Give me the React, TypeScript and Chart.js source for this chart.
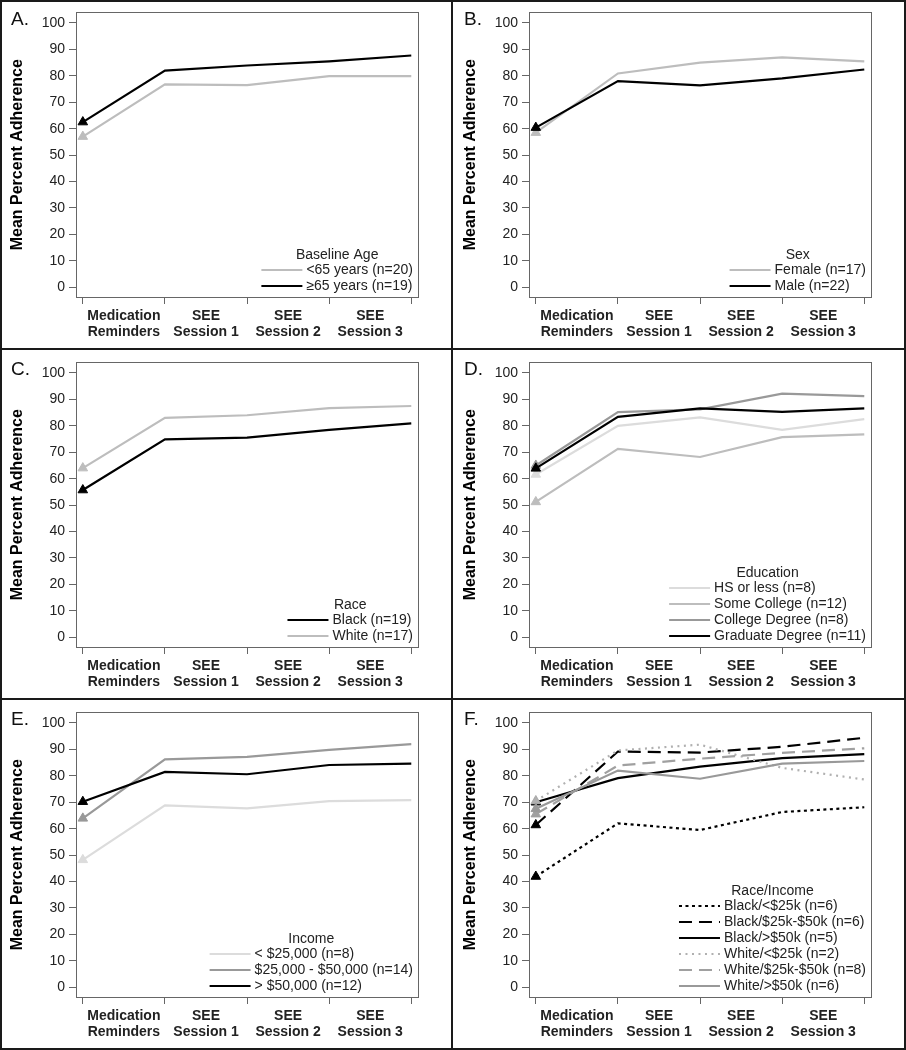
import React, { useEffect, useRef } from 'react';
import { Chart, registerables, Plugin } from 'chart.js';

Chart.register(...registerables);
Chart.defaults.font.family = '"Liberation Sans", Arial, Helvetica, sans-serif';

// x positions: baseline + end of each phase
const timePoints = [0, 1, 2, 3, 4];
const stageLabels = [
  ['Medication', 'Reminders'],
  ['SEE', 'Session 1'],
  ['SEE', 'Session 2'],
  ['SEE', 'Session 3'],
];
const yTicks = [0, 10, 20, 30, 40, 50, 60, 70, 80, 90, 100];

// A. baseline age
const ageUnder65 = [57.0, 76.8, 76.5, 79.9, 79.9];
const age65Plus = [62.5, 82.0, 83.9, 85.5, 87.7];
// B. sex
const sexFemale = [58.5, 80.9, 85.0, 87.0, 85.5];
const sexMale = [60.4, 78.0, 76.4, 79.0, 82.4];
// C. race
const raceBlack = [55.7, 74.9, 75.5, 78.5, 80.9];
const raceWhite = [64.0, 83.0, 84.0, 86.7, 87.5];
// D. education
const eduHs = [61.6, 80.0, 83.2, 78.5, 82.5];
const eduSomeCollege = [51.2, 71.3, 68.2, 75.7, 76.8];
const eduCollege = [65.0, 85.2, 86.2, 92.2, 91.2];
const eduGraduate = [63.9, 83.4, 86.6, 85.3, 86.6];
// E. income
const incLow = [48.2, 68.8, 67.7, 70.4, 70.8];
const incMid = [63.9, 86.2, 87.2, 89.8, 92.0];
const incHigh = [70.2, 81.5, 80.6, 84.1, 84.6];
// F. race / income
const blackLow = [41.9, 62.0, 59.5, 66.3, 68.1];
const blackMid = [61.4, 89.2, 88.8, 91.0, 94.4];
const blackHigh = [70.0, 79.1, 83.5, 86.7, 88.2];
const whiteLow = [70.5, 89.6, 91.8, 83.0, 78.6];
const whiteMid = [65.5, 83.9, 86.5, 88.7, 90.4];
const whiteHigh = [67.5, 82.0, 78.9, 84.6, 85.6];

interface Series {
  label: string;
  data: number[];
  color: string;
  dash?: number[];
}

interface Panel {
  letter: string;
  title: string;
  series: Series[];
}

const DOTS = [3, 3.5];
const DASH = [13, 7];

const panels: Panel[] = [
  {
    letter: 'A.',
    title: 'Baseline Age',
    series: [
      { label: '<65 years (n=20)', data: ageUnder65, color: '#bdbdbd' },
      { label: '\u226565 years (n=19)', data: age65Plus, color: '#000000' },
    ],
  },
  {
    letter: 'B.',
    title: 'Sex',
    series: [
      { label: 'Female (n=17)', data: sexFemale, color: '#bdbdbd' },
      { label: 'Male (n=22)', data: sexMale, color: '#000000' },
    ],
  },
  {
    letter: 'C.',
    title: 'Race',
    series: [
      { label: 'Black (n=19)', data: raceBlack, color: '#000000' },
      { label: 'White (n=17)', data: raceWhite, color: '#bdbdbd' },
    ],
  },
  {
    letter: 'D.',
    title: 'Education',
    series: [
      { label: 'HS or less (n=8)', data: eduHs, color: '#dcdcdc' },
      { label: 'Some College (n=12)', data: eduSomeCollege, color: '#bdbdbd' },
      { label: 'College Degree (n=8)', data: eduCollege, color: '#999999' },
      { label: 'Graduate Degree (n=11)', data: eduGraduate, color: '#000000' },
    ],
  },
  {
    letter: 'E.',
    title: 'Income',
    series: [
      { label: '< $25,000 (n=8)', data: incLow, color: '#dcdcdc' },
      { label: '$25,000 - $50,000 (n=14)', data: incMid, color: '#999999' },
      { label: '> $50,000 (n=12)', data: incHigh, color: '#000000' },
    ],
  },
  {
    letter: 'F.',
    title: 'Race/Income',
    series: [
      { label: 'Black/<$25k (n=6)', data: blackLow, color: '#000000', dash: DOTS },
      { label: 'Black/$25k-$50k (n=6)', data: blackMid, color: '#000000', dash: DASH },
      { label: 'Black/>$50k (n=5)', data: blackHigh, color: '#000000' },
      { label: 'White/<$25k (n=2)', data: whiteLow, color: '#b0b0b0', dash: [2, 4.5] },
      { label: 'White/$25k-$50k (n=8)', data: whiteMid, color: '#a0a0a0', dash: DASH },
      { label: 'White/>$50k (n=6)', data: whiteHigh, color: '#999999' },
    ],
  },
];

const FONT = '"Liberation Sans", Arial, Helvetica, sans-serif';

// frame round the plot, panel letter and the in-plot legend
const panelDecor: Plugin = {
  id: 'panelDecor',
  beforeDatasetsDraw(chart) {
    const { ctx, chartArea: a } = chart;
    ctx.save();
    ctx.strokeStyle = '#666';
    ctx.lineWidth = 1;
    ctx.strokeRect(Math.round(a.left) + 0.5, Math.round(a.top) + 0.5,
      Math.round(a.width) - 1, Math.round(a.height));
    ctx.restore();
  },
  afterDraw(chart, _args, opts: any) {
    const { ctx, chartArea: a } = chart;
    ctx.save();
    ctx.fillStyle = '#111';
    ctx.font = `19px ${FONT}`;
    ctx.textAlign = 'left';
    ctx.textBaseline = 'alphabetic';
    ctx.fillText(opts.letter, 11, 25);

    const items = chart.data.datasets as any[];
    ctx.font = `14px ${FONT}`;
    const maxW = Math.max(...items.map((d) => ctx.measureText(d.label).width));
    const right = a.right - 6;
    const textX = right - maxW;
    const lineEnd = textX - 4;
    const lineStart = lineEnd - 41;
    const rowH = 16;
    const lastY = a.bottom - 11;
    ctx.textBaseline = 'middle';
    items.forEach((d, i) => {
      const y = lastY - (items.length - 1 - i) * rowH;
      ctx.strokeStyle = d.borderColor;
      ctx.lineWidth = d.borderWidth;
      ctx.setLineDash(d.borderDash || []);
      ctx.beginPath();
      ctx.moveTo(lineStart, y);
      ctx.lineTo(lineEnd, y);
      ctx.stroke();
      ctx.fillStyle = '#222';
      ctx.textAlign = 'left';
      ctx.fillText(d.label, textX, y);
    });
    ctx.setLineDash([]);
    ctx.textAlign = 'center';
    ctx.fillText(opts.title, (lineStart + right) / 2, lastY - items.length * rowH + 1);
    ctx.restore();
  },
};

const PANEL_W = 453;
const PANEL_H = 350;

function PanelChart({ panel, index }: { panel: Panel; index: number }) {
  const canvasRef = useRef<HTMLCanvasElement | null>(null);

  useEffect(() => {
    if (!canvasRef.current) return;
    const n = panel.series.length;
    const chart = new Chart(canvasRef.current, {
      type: 'line',
      data: {
        datasets: panel.series.map((s, i) => ({
          label: s.label,
          data: timePoints.map((t, j) => ({ x: t, y: s.data[j] })),
          borderColor: s.color,
          backgroundColor: s.color,
          borderWidth: 2.2,
          borderDash: s.dash || [],
          pointStyle: 'triangle',
          pointRadius: (c: any) => (c.dataIndex === 0 ? 5.5 : 0),
          pointBackgroundColor: s.color,
          pointBorderColor: s.color,
          pointBorderWidth: 1,
          tension: 0,
          fill: false,
          order: n - 1 - i,
        })),
      },
      plugins: [panelDecor],
      options: {
        responsive: false,
        animation: false,
        events: [],
        layout: { padding: { left: 0, top: 8, right: 34, bottom: 0 } },
        plugins: {
          legend: { display: false },
          tooltip: { enabled: false },
          panelDecor: { letter: panel.letter, title: panel.title },
        } as any,
        scales: {
          x: {
            type: 'linear',
            min: -0.083,
            max: 4.094,
            afterBuildTicks: (scale: any) => {
              const ticks = [];
              for (let v = 0; v <= 4; v += 0.5) ticks.push({ value: v });
              scale.ticks = ticks;
            },
            afterFit: (scale: any) => {
              scale.height = 53;
            },
            border: { display: false },
            grid: {
              drawOnChartArea: false,
              drawTicks: true,
              tickLength: 7,
              tickColor: (c: any) =>
                Number.isInteger(c.tick?.value) ? '#666' : 'rgba(0,0,0,0)',
            },
            ticks: {
              autoSkip: false,
              maxRotation: 0,
              minRotation: 0,
              padding: 4,
              color: '#222',
              font: { size: 14, weight: 'bold', lineHeight: 1.15 },
              callback: (value: any) =>
                Number.isInteger(value) ? '' : stageLabels[Math.floor(value)],
            },
          },
          y: {
            type: 'linear',
            min: -3.7,
            max: 104,
            afterBuildTicks: (scale: any) => {
              scale.ticks = yTicks.map((v) => ({ value: v }));
            },
            afterFit: (scale: any) => {
              scale.width = 76;
            },
            border: { display: false },
            grid: {
              drawOnChartArea: false,
              drawTicks: true,
              tickLength: 7,
              tickColor: '#666',
            },
            ticks: {
              autoSkip: false,
              padding: 4,
              color: '#222',
              font: { size: 14 },
            },
            title: {
              display: true,
              text: 'Mean Percent Adherence',
              color: '#000',
              font: { size: 16, weight: 'bold' },
              padding: { top: 8, bottom: 0 },
            },
          },
        },
      },
    } as any);
    return () => chart.destroy();
  }, [panel]);

  const col = index % 2;
  const row = Math.floor(index / 2);
  return (
    <canvas
      ref={canvasRef}
      width={PANEL_W}
      height={PANEL_H}
      style={{
        position: 'absolute',
        left: col * PANEL_W,
        top: row * PANEL_H,
        width: PANEL_W,
        height: PANEL_H,
      }}
    />
  );
}

const lineStyle = (l: number, t: number, w: number, h: number): React.CSSProperties => ({
  position: 'absolute',
  left: l,
  top: t,
  width: w,
  height: h,
  background: '#1a1a1a',
});

export default function App() {
  return (
    <div
      style={{
        position: 'absolute',
        left: 0,
        top: 0,
        width: 906,
        height: 1050,
        background: '#fff',
        overflow: 'hidden',
      }}
    >
      {panels.map((p, i) => (
        <PanelChart key={p.letter} panel={p} index={i} />
      ))}
      <div style={lineStyle(0, 0, 906, 2)} />
      <div style={lineStyle(0, 348, 906, 2)} />
      <div style={lineStyle(0, 698, 906, 2)} />
      <div style={lineStyle(0, 1048, 906, 2)} />
      <div style={lineStyle(0, 0, 2, 1050)} />
      <div style={lineStyle(451, 0, 2, 1050)} />
      <div style={lineStyle(904, 0, 2, 1050)} />
    </div>
  );
}
